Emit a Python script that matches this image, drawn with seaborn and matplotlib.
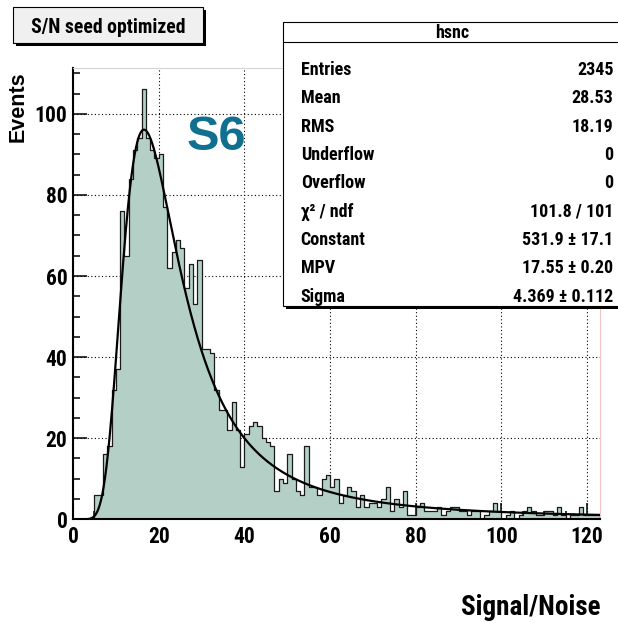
import numpy as np
import pandas as pd
import matplotlib
matplotlib.use("Agg")
import matplotlib.pyplot as plt
from matplotlib.patches import Rectangle
from matplotlib.ticker import MultipleLocator
import seaborn as sns

# ---- histogram "hsnc": Signal/Noise of seed strips, 1-unit bins on [0, 123) ----
bin_low = 0
bin_high = 123
bin_width = 1
counts = [0, 0, 0, 0, 0, 6, 6, 16, 18, 32,
          37, 76, 65, 84, 91, 94, 106, 94, 91, 89,
          90, 77, 62, 66, 69, 67, 57, 63, 53, 64,
          42, 42, 41, 32, 27, 27, 22, 29, 22, 13,
          21, 23, 24, 23, 20, 19, 18, 7, 10, 9,
          16, 10, 7, 6, 18, 8, 8, 6, 10, 11,
          8, 10, 4, 6, 8, 7, 3, 6, 3, 4,
          4, 3, 5, 8, 2, 5, 3, 7, 1, 1,
          3, 4, 2, 2, 2, 3, 1, 2, 3, 3,
          2, 2, 1, 2, 2, 0, 1, 2, 4, 2,
          0, 1, 2, 0, 1, 2, 3, 2, 1, 1,
          2, 2, 1, 3, 1, 0, 1, 1, 3, 1,
          1, 1, 1]

# ---- Landau fit result ----
fit_constant = 531.9
fit_mpv = 17.55
fit_sigma = 4.369

# ---- statistics box ----
stat_title = "hsnc"
stat_names = ["Entries", "Mean", "RMS", "Underflow", "Overflow",
              "\u03c7\u00b2 / ndf", "Constant", "MPV", "Sigma"]
stat_values = ["2345", "28.53", "18.19", "0", "0", "101.8 / 101",
               "531.9 \u00b1 17.1", "17.55 \u00b1 0.20", "4.369 \u00b1 0.112"]

x_ticks = [0, 20, 40, 60, 80, 100, 120]
y_ticks = [0, 20, 40, 60, 80, 100]
title_text = "S/N seed optimized"
x_label = "Signal/Noise"
y_label = "Events"
sensor_tag = "S6"

FILL = "#b3cfc6"
TEAL = "#117090"
NARROW = ["Roboto Condensed", "Liberation Sans", "DejaVu Sans"]
WIDE = ["Liberation Sans", "DejaVu Sans"]


def landau(lam):
    """Standard Landau density, phi(l) = 1/pi * int exp(-pi t/2) cos(t ln t + l t) dt."""
    t = np.linspace(1e-9, 30.0, 30001)
    damp = np.exp(-np.pi * t / 2.0)
    tlt = t * np.log(t)
    return np.array([np.trapezoid(damp * np.cos(tlt + l * t), t) for l in lam]) / np.pi


sns.set_theme(style="white")
plt.rcParams["font.family"] = NARROW
plt.rcParams["font.weight"] = "bold"
for key in ("text.color", "axes.labelcolor", "xtick.color", "ytick.color",
            "xtick.labelcolor", "ytick.labelcolor"):
    plt.rcParams[key] = "black"

W, H = 618, 623
fig = plt.figure(figsize=(W / 100, H / 100), dpi=100)
fig.patch.set_facecolor("white")

# frame in pixel coordinates
fx0, fx1, fy0, fy1 = 73, 600, 68, 519.3
ax = fig.add_axes([fx0 / W, 1 - fy1 / H, (fx1 - fx0) / W, (fy1 - fy0) / H])
ax.set_facecolor("white")

centers = np.arange(bin_low, bin_high, bin_width) + bin_width / 2
hist_df = pd.DataFrame({"snr": centers, "events": counts})
sns.histplot(data=hist_df, x="snr", weights="events",
             binwidth=bin_width, binrange=(bin_low, bin_high),
             element="step", fill=True, color=FILL, alpha=1,
             edgecolor="#1a1a1a", linewidth=0.9, ax=ax, zorder=2)

xs = np.linspace(bin_low, bin_high, 1200)
fit_df = pd.DataFrame({"snr": xs,
                       "events": fit_constant * landau((xs - fit_mpv) / fit_sigma)})
sns.lineplot(data=fit_df, x="snr", y="events", color="black", linewidth=1.6,
             estimator=None, sort=False, ax=ax, zorder=3)

ax.set_xlim(bin_low, bin_high)
ax.set_ylim(0, 1.05 * max(counts))
ax.set_xlabel("")
ax.set_ylabel("")
ax.set_xticks(x_ticks)
ax.set_yticks(y_ticks)
ax.set_xticklabels([str(v) for v in x_ticks])
ax.set_yticklabels([str(v) for v in y_ticks])
ax.xaxis.set_minor_locator(MultipleLocator(5))
ax.yaxis.set_minor_locator(MultipleLocator(5))
ax.tick_params(axis="both", which="both", direction="in", color="black",
               width=1.1, bottom=True, left=True, top=False, right=False)
ax.tick_params(axis="x", which="major", length=11.5, pad=5, labelsize=15.5)
ax.tick_params(axis="x", which="minor", length=5.8)
ax.tick_params(axis="y", which="major", length=10, pad=4, labelsize=15.5)
ax.tick_params(axis="y", which="minor", length=5)
for lab in ax.get_xticklabels() + ax.get_yticklabels():
    lab.set_fontweight("bold")
    lab.set_color("black")

ax.set_axisbelow(True)
ax.grid(True, which="major", color="black", linestyle=(0, (1, 2.2)), linewidth=0.8)

for side in ("left", "bottom"):
    ax.spines[side].set_color("black")
    ax.spines[side].set_linewidth(1.5)
ax.spines["top"].set_color("#d4d4d4")
ax.spines["top"].set_linewidth(0.8)
ax.spines["right"].set_color("#f0c4c4")
ax.spines["right"].set_linewidth(0.8)

# overlay in pixel coordinates for labels and boxes
ov = fig.add_axes([0, 0, 1, 1], zorder=5)
ov.set_xlim(0, W)
ov.set_ylim(H, 0)
ov.axis("off")
ov.patch.set_alpha(0)

# title pave with shadow
ov.add_patch(Rectangle((16.3, 9.7), 190, 36, facecolor="black", edgecolor="none"))
ov.add_patch(Rectangle((13.3, 6.7), 190, 36, facecolor="#f0f0f0",
                       edgecolor="black", linewidth=0.8))
ov.text(108, 33, title_text, ha="center", va="baseline",
        fontsize=14.2, fontweight="bold", family=NARROW, color="black")

# statistics box with shadow
bx0, by0, bx1, by1 = 283.3, 21.7, 625, 305.5
ov.add_patch(Rectangle((bx0 + 3, by0 + 3), bx1 - bx0, by1 - by0,
                       facecolor="black", edgecolor="none"))
ov.add_patch(Rectangle((bx0, by0), bx1 - bx0, by1 - by0, facecolor="white",
                       edgecolor="black", linewidth=0.8))
ov.plot([bx0, bx1], [41.7, 41.7], color="black", linewidth=0.8)
ov.text(451.7, 38, stat_title, ha="center", va="baseline",
        fontsize=13, fontweight="bold", family=NARROW, color="black")
for i, (name, val) in enumerate(zip(stat_names, stat_values)):
    yb = 68.3 + 28.34 * i + 6.6
    ov.text(300.7, yb, name, ha="left", va="baseline",
            fontsize=13, fontweight="bold", family=NARROW, color="black")
    ov.text(613.5, yb, val, ha="right", va="baseline",
            fontsize=13, fontweight="bold", family=NARROW, color="black")

# axis titles and sensor tag
ov.text(18, 107, y_label, rotation=90, ha="center", va="center",
        fontsize=15.5, fontweight="bold", family=WIDE, color="black")
ov.text(600, 615, x_label, ha="right", va="baseline",
        fontsize=19.5, fontweight="bold", family=NARROW, color="black")
ov.text(216.7, 150.5, sensor_tag, ha="center", va="baseline",
        fontsize=35, fontweight="bold", family=WIDE, color=TEAL)

fig.savefig("out.png", dpi=100)
